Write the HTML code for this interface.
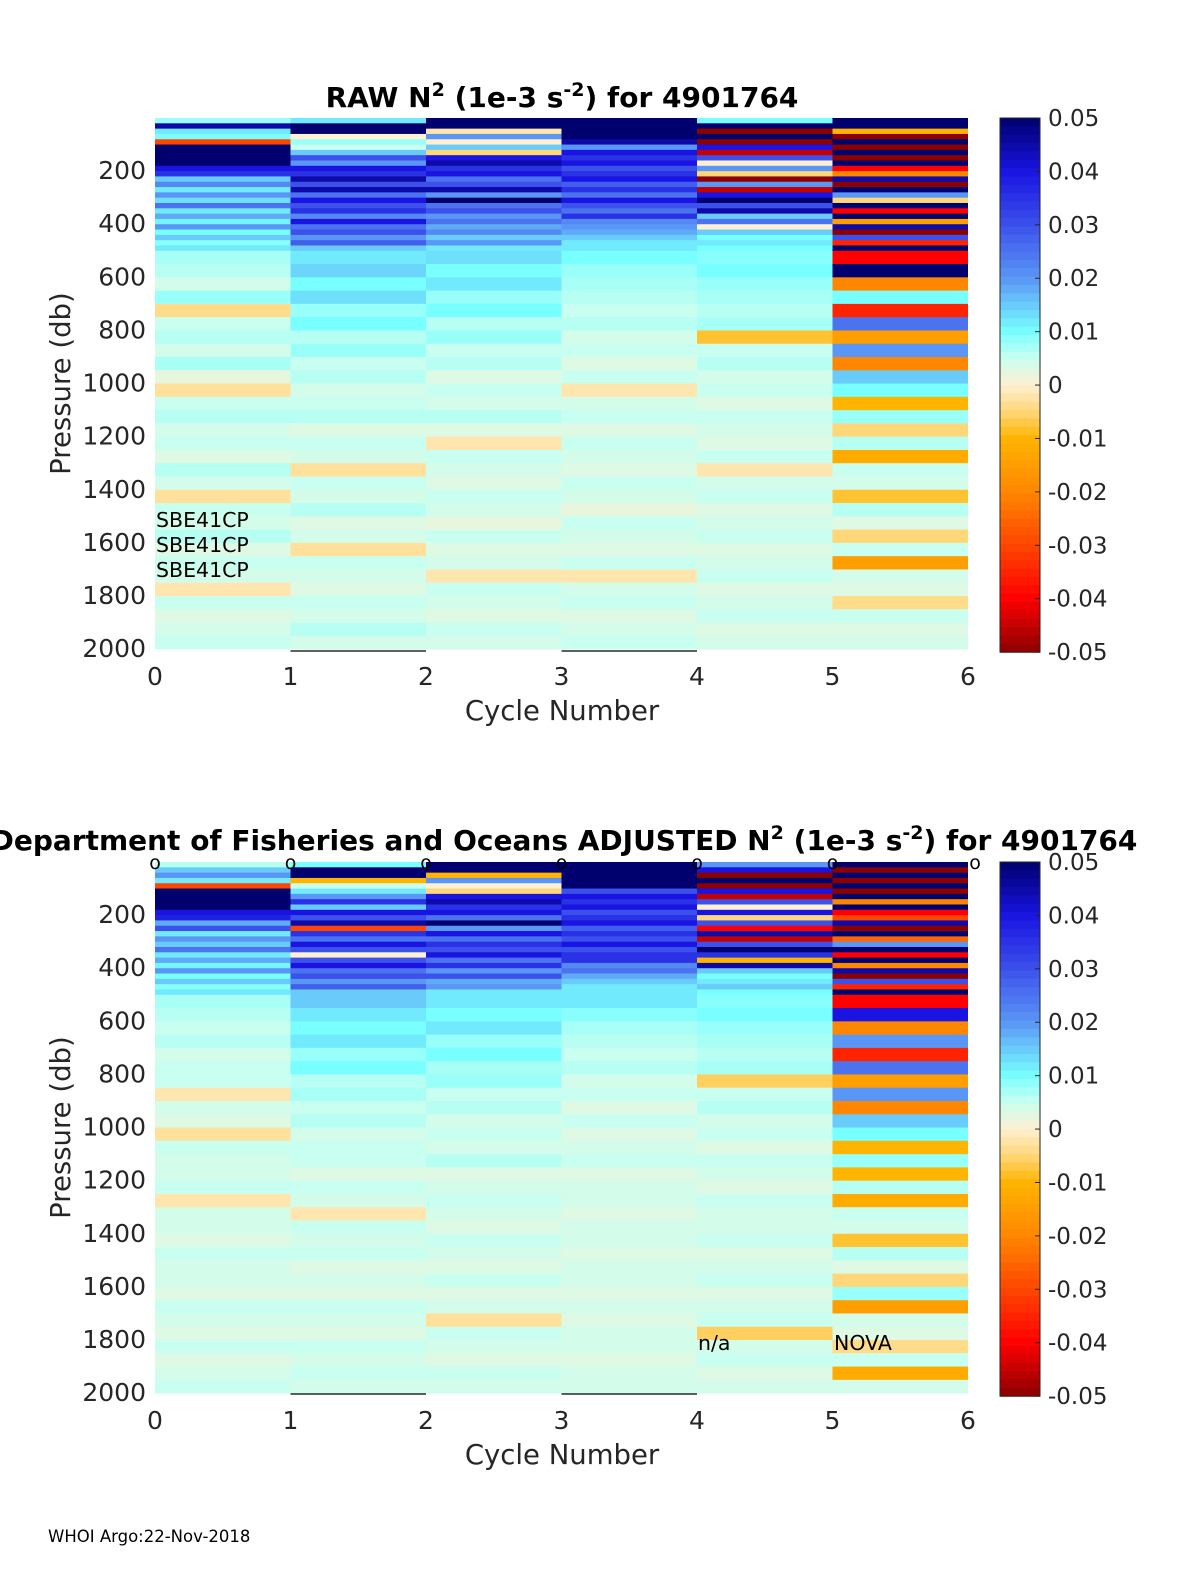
<!DOCTYPE html>
<html><head><meta charset="utf-8">
<style>
html,body{margin:0;padding:0;background:#fff;overflow:hidden;width:1200px;height:1575px;}
#wrap{position:relative;width:1200px;height:1575px;overflow:hidden;}
svg{display:block;font-family:"DejaVu Sans","Liberation Sans",sans-serif;position:absolute;left:0;top:0;}
</style></head>
<body>
<div id="wrap">
<svg id="fig" width="1200" height="1575" viewBox="0 0 1200 1575" xmlns="http://www.w3.org/2000/svg">
<rect x="0" y="0" width="1200" height="1575" fill="#fff"/>
</svg>
<svg width="1200" height="1575">
<text x="562" y="107" font-family="DejaVu Sans, Liberation Sans, sans-serif" font-size="28" font-weight="bold" text-anchor="middle" fill="#000">RAW N<tspan font-size="19" dy="-11">2</tspan><tspan dy="11"> (1e-3 s</tspan><tspan font-size="19" dy="-11">-2</tspan><tspan dy="11">) for 4901764</tspan></text>
<text x="564" y="850" font-family="DejaVu Sans, Liberation Sans, sans-serif" font-size="28" font-weight="bold" text-anchor="middle" fill="#000">Department of Fisheries and Oceans  ADJUSTED N<tspan font-size="19" dy="-11">2</tspan><tspan dy="11"> (1e-3 s</tspan><tspan font-size="19" dy="-11">-2</tspan><tspan dy="11">) for 4901764</tspan></text>
<g font-family="DejaVu Sans, Liberation Sans, sans-serif" font-size="20.5" fill="#000">
<text x="156" y="527">SBE41CP</text>
<text x="156" y="552">SBE41CP</text>
<text x="156" y="577">SBE41CP</text>
<text x="698" y="1350">n/a</text>
<text x="834" y="1350">NOVA</text>
</g>
<text x="48" y="1542" font-family="DejaVu Sans, Liberation Sans, sans-serif" font-size="16.5" fill="#000">WHOI Argo:22-Nov-2018</text>
</svg>
</div>
<script>
// ---------- data ----------
const cycles = [0,1,2,3,4,5];
const topEdges = [0,20,40,60,80,100,120,140,160,180,200,220,240,260,280,300,320,340,360,380,400,420,440,460,480,500];
const deepEdges = [500,550,600,650,700,750,800,850,900,950,1000,1050,1100,1150,1200,1250,1300,1350,1400,1450,1500,1550,1600,1650,1700,1750,1800,1850,1900,1950,2000];
const xTicks = [0,1,2,3,4,5,6];
const yTicks = [200,400,600,800,1000,1200,1400,1600,1800,2000];
const cbTicks = [0.05,0.04,0.03,0.02,0.01,0,-0.01,-0.02,-0.03,-0.04,-0.05];
const cbTickLabels = ["0.05","0.04","0.03","0.02","0.01","0","-0.01","-0.02","-0.03","-0.04","-0.05"];

const rawTop = [
 [0.008,0.045,0.012,0.01,-0.03,0.05,0.05,0.05,0.05,0.04,0.035,0.015,0.022,0.012,0.02,0.013,0.025,0.012,0.018,0.011,0.02,0.01,0.015,0.009,0.012],
 [0.012,0.05,0.05,0.0,0.008,0.005,0.015,0.03,0.02,0.04,0.035,0.045,0.03,0.045,0.025,0.04,0.03,0.035,0.022,0.04,0.025,0.03,0.02,0.028,0.015],
 [0.05,0.05,-0.002,0.02,0.0,0.015,-0.005,0.04,0.045,0.035,0.04,0.025,0.03,0.045,0.02,0.05,0.025,0.03,0.02,0.025,0.018,0.022,0.015,0.02,0.012],
 [0.05,0.05,0.05,0.05,0.045,0.02,0.04,0.035,0.04,0.03,0.035,0.04,0.028,0.035,0.025,0.04,0.03,0.025,0.035,0.022,0.02,0.018,0.015,0.012,0.012],
 [0.01,0.05,-0.05,0.05,-0.05,0.04,-0.045,0.03,0.0,0.02,-0.005,-0.05,0.02,-0.045,0.04,0.05,0.03,0.045,0.015,0.025,0.0,0.015,0.01,0.012,0.01],
 [0.05,0.05,-0.01,-0.05,0.05,-0.05,0.05,-0.05,0.05,-0.04,-0.02,0.045,-0.05,0.05,0.02,-0.005,0.05,-0.04,0.05,-0.015,0.045,-0.05,0.03,-0.035,0.05]
];
const rawDeep = [
 [0.007,0.006,0.004,0.008,-0.004,0.005,0.006,0.004,0.007,0.002,-0.003,0.005,0.006,0.004,0.005,0.003,0.006,0.004,-0.003,0.005,0.004,0.006,0.003,0.005,0.004,-0.002,0.005,0.003,0.004,0.005],
 [0.012,0.014,0.01,0.013,0.008,0.01,0.006,0.008,0.005,0.006,0.004,0.005,0.006,0.003,0.005,0.004,-0.003,0.005,0.004,0.006,0.003,0.004,-0.003,0.005,0.004,0.003,0.005,0.004,0.006,0.004],
 [0.013,0.01,0.012,0.008,0.01,0.006,0.008,0.005,0.006,0.003,0.005,0.004,0.006,0.003,-0.002,0.005,0.004,0.003,0.005,0.004,0.002,0.005,0.003,0.004,-0.002,0.005,0.004,0.003,0.005,0.004],
 [0.01,0.008,0.007,0.006,0.005,0.006,0.004,0.005,0.003,0.005,-0.002,0.004,0.005,0.003,0.005,0.004,0.003,0.005,0.004,0.002,0.005,0.004,0.003,0.005,-0.002,0.004,0.005,0.003,0.004,0.005],
 [0.009,0.01,0.008,0.007,0.006,0.007,-0.008,0.005,0.006,0.004,0.005,0.003,0.005,0.004,0.003,0.005,-0.002,0.004,0.005,0.003,0.004,0.005,0.003,0.004,0.005,0.003,0.004,0.005,0.003,0.004],
 [-0.04,0.05,-0.02,0.01,-0.035,0.025,-0.015,0.02,-0.02,0.015,0.01,-0.01,0.008,-0.005,0.006,-0.012,0.005,0.004,-0.008,0.006,0.003,-0.005,0.005,-0.015,0.004,0.003,-0.004,0.005,0.003,0.004]
];
const adjTop = [
 [0.006,0.015,0.02,0.012,-0.03,0.05,0.05,0.05,0.05,0.04,0.038,0.018,0.03,0.012,0.02,0.015,0.025,0.012,0.018,0.011,0.02,0.01,0.015,0.009,0.012],
 [0.01,0.05,0.05,-0.01,0.005,0.012,0.02,0.035,0.015,0.04,0.03,0.045,-0.03,0.035,0.025,0.04,0.03,0.0,0.03,0.04,0.025,0.03,0.02,0.028,0.015],
 [0.05,0.05,-0.01,0.02,0.0,-0.005,0.04,0.045,0.035,0.04,0.025,0.05,0.02,0.04,0.025,0.035,0.03,0.04,0.025,0.035,0.02,0.03,0.018,0.02,0.012],
 [0.05,0.05,0.05,0.05,0.05,0.03,0.04,0.035,0.04,0.03,0.035,0.04,0.028,0.035,0.03,0.04,0.03,0.035,0.035,0.022,0.025,0.018,0.015,0.012,0.012],
 [0.02,0.04,-0.05,0.05,-0.05,0.04,-0.045,0.03,0.0,0.04,-0.005,0.03,-0.04,0.045,-0.045,0.03,0.05,0.035,-0.01,0.045,0.015,0.01,0.012,0.015,0.01],
 [0.05,-0.05,0.05,-0.05,0.05,-0.05,0.05,-0.02,0.05,-0.04,-0.03,0.045,-0.05,0.05,-0.025,0.02,0.05,-0.04,0.05,-0.02,0.045,-0.05,0.03,-0.035,0.05]
];
const adjDeep = [
 [0.007,0.006,0.005,0.006,0.004,0.005,0.005,-0.002,0.004,0.003,-0.003,0.005,0.004,0.004,0.005,-0.002,0.004,0.004,0.003,0.005,0.004,0.004,0.003,0.005,0.004,0.003,0.005,0.003,0.004,0.005],
 [0.015,0.012,0.01,0.012,0.008,0.01,0.006,0.007,0.005,0.006,0.004,0.005,0.005,0.003,0.005,0.004,-0.002,0.005,0.004,0.005,0.003,0.004,0.003,0.005,0.004,0.003,0.005,0.004,0.005,0.004],
 [0.012,0.01,0.012,0.008,0.01,0.007,0.008,0.005,0.006,0.004,0.005,0.004,0.006,0.003,0.004,0.005,0.004,0.003,0.005,0.004,0.003,0.005,0.003,0.004,-0.003,0.005,0.004,0.003,0.005,0.004],
 [0.012,0.009,0.007,0.006,0.005,0.006,0.004,0.005,0.003,0.005,0.003,0.004,0.005,0.003,0.004,0.004,0.003,0.004,0.004,0.003,0.004,0.004,0.003,0.004,0.003,0.004,0.004,0.003,0.004,0.004],
 [0.009,0.01,0.008,0.007,0.006,0.007,-0.006,0.005,0.006,0.004,0.005,0.003,0.005,0.004,0.003,0.005,0.004,0.004,0.005,0.003,0.004,0.005,0.003,0.004,0.005,-0.006,0.004,0.005,0.003,0.004],
 [-0.04,0.04,-0.02,0.02,-0.035,0.025,-0.015,0.02,-0.02,0.015,0.01,-0.01,0.008,-0.01,0.006,-0.012,0.005,0.004,-0.008,0.006,0.003,-0.005,0.008,-0.015,0.004,0.003,-0.004,0.005,-0.012,0.004]
];

// ---------- scales ----------
const X0=155, X1=968;
function xScale(c){ return X0 + c*(X1-X0)/6; }
function yScaleFactory(top){ const k=(648-170)/1800; return p => top + p*k; }
const stops = [
 [-0.05,[140,0,0]],[-0.04,[255,0,0]],[-0.03,[255,70,0]],[-0.02,[255,135,0]],[-0.01,[255,180,0]],
 [-0.005,[255,215,120]],[0,[255,240,210]],[0.005,[200,255,240]],[0.01,[120,255,255]],
 [0.02,[90,150,245]],[0.03,[60,80,235]],[0.04,[25,20,225]],[0.05,[0,0,110]]];
function color(v){
  v=Math.max(-0.05,Math.min(0.05,v));
  for(let i=0;i<stops.length-1;i++){
    const a=stops[i],b=stops[i+1];
    if(v>=a[0]&&v<=b[0]){const t=(v-a[0])/(b[0]-a[0]);
      const c=a[1].map((x,j)=>Math.round(x+(b[1][j]-x)*t));return `rgb(${c[0]},${c[1]},${c[2]})`;}
  }
  return "rgb(0,0,110)";
}
const NS="http://www.w3.org/2000/svg";
const svg=document.getElementById('fig');
function mk(tag,attrs,parent){const e=document.createElementNS(NS,tag);for(const k in attrs)e.setAttribute(k,attrs[k]);(parent||svg).appendChild(e);return e;}
function txt(s,attrs,parent){const e=mk('text',attrs,parent);e.textContent=s;return e;}

function drawPanel(top, tVals, dVals, name){
  const y=yScaleFactory(top);
  const g=mk('g',{});
  
  
  cycles.forEach((c,ci)=>{
    const xa=xScale(c), xb=xScale(c+1);
    tVals[ci].forEach((v,i)=>{
      const r=mk('rect',{x:xa,y:y(topEdges[i]),width:xb-xa,height:y(topEdges[i+1])-y(topEdges[i])+0.5,fill:color(v)},g);
      
      
    });
    dVals[ci].forEach((v,i)=>{
      const r=mk('rect',{x:xa,y:y(deepEdges[i]),width:xb-xa,height:y(deepEdges[i+1])-y(deepEdges[i])+0.5,fill:color(v)},g);
      
      
    });
  });
  yTicks.forEach(p=>{
    const t=txt(String(p),{x:146,y:y(p)+8,'font-size':25,'text-anchor':'end',fill:'#262626'});
    
    
  });
  const xl=y(2000)+36;
  xTicks.forEach(c=>{
    const t=txt(String(c),{x:xScale(c),y:xl,'font-size':25,'text-anchor':'middle',fill:'#262626'});
    
    
  });
  const xt=txt('Cycle Number',{x:562,y:xl+35,'font-size':27.5,'text-anchor':'middle',fill:'#262626'});
  
  
  const cy=(y(0)+y(2000))/2;
  const yt=txt('Pressure (db)',{x:0,y:0,'font-size':27.5,'text-anchor':'middle',fill:'#262626',transform:`translate(70,${cy}) rotate(-90)`});
  
  
  const cbTop=top, cbBot=y(2000)+3, cbX=1000, cbW=40;
  const cg=mk('g',{});
  
  
  const n=64;
  for(let i=0;i<n;i++){
    const v=0.05-(i+0.5)*0.1/n;
    mk('rect',{x:cbX,y:cbTop+i*(cbBot-cbTop)/n,width:cbW,height:(cbBot-cbTop)/n+0.6,fill:color(v)},cg);
  }
  mk('rect',{x:cbX,y:cbTop,width:cbW,height:cbBot-cbTop,fill:'none',stroke:'#262626','stroke-width':1},cg);
  cbTicks.forEach((v,i)=>{
    const ty=cbTop+(0.05-v)/0.1*(cbBot-cbTop);
    mk('line',{x1:cbX+cbW-5,x2:cbX+cbW,y1:ty,y2:ty,stroke:'#262626'},cg);
    const t=txt(cbTickLabels[i],{x:1048,y:ty+8,'font-size':23,fill:'#262626'},cg);
    
    
  });
  return y;
}

drawPanel(118, rawTop, rawDeep, 'raw');
drawPanel(862, adjTop, adjDeep, 'adjusted');
[1,3].forEach(c=>{mk('line',{x1:xScale(c),x2:xScale(c+1),y1:651,y2:651,stroke:'#000','stroke-width':1.2});
  mk('line',{x1:xScale(c),x2:xScale(c+1),y1:1394,y2:1394,stroke:'#000','stroke-width':1.2});});
xTicks.forEach(c=>{
  const t=txt('o',{x:xScale(c)+(c===6?7:0),y:869,'font-size':19,'text-anchor':'middle',fill:'#000'});
  
  
});
</script>
</body></html>
